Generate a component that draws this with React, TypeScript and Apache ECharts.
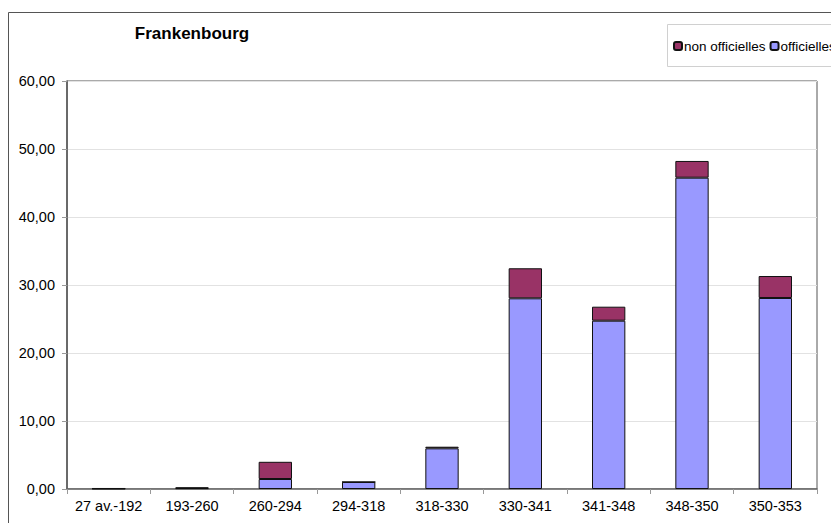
import React, { useEffect, useRef } from "react";
import * as echarts from "echarts";

const categories = ["27 av.-192", "193-260", "260-294", "294-318", "318-330", "330-341", "341-348", "348-350", "350-353"];
const officielles = [0.05, 0.12, 1.47, 1.03, 5.98, 28.04, 24.75, 45.78, 28.09];
const nonOfficielles = [0.05, 0.1, 2.53, 0, 0.24, 4.42, 2.06, 2.46, 3.23];
const yTicks = [0, 10, 20, 30, 40, 50, 60];

export default function App() {
  const ref = useRef<HTMLDivElement>(null);
  useEffect(() => {
    if (!ref.current) return;
    const chart = echarts.init(ref.current, undefined, { renderer: "svg" });
    const font = "Liberation Sans, Arial, sans-serif";
    chart.setOption({
      animation: false,
      backgroundColor: "#ffffff",
      textStyle: { fontFamily: font },
      title: {
        text: "Frankenbourg",
        left: 187,
        top: 20,
        textAlign: "center",
        textStyle: { fontSize: 17, fontWeight: "bold", color: "#000", fontFamily: font },
      },
      graphic: [
        {
          type: "rect",
          shape: { x: 8.5, y: 12.5, width: 900, height: 600 },
          style: { fill: "none", stroke: "#555", lineWidth: 1 },
          silent: true,
        },
        {
          type: "rect",
          shape: { x: 667.5, y: 24.5, width: 300, height: 42 },
          style: { fill: "#fff", stroke: "#d0d0d0", lineWidth: 1 },
          silent: true,
          z: 0,
        },
      ],
      legend: {
        data: ["non officielles", "officielles"],
        orient: "horizontal",
        left: 673,
        top: 39,
        width: 400,
        itemWidth: 8,
        itemHeight: 8,
        itemGap: 4,
        padding: 0,
        z: 10,
        textStyle: { fontSize: 13.5, color: "#000", fontFamily: font, padding: [0, 0, 0, -3] },
      },
      grid: { left: 67, right: 14, top: 81, bottom: 34, show: true, borderColor: "#555", borderWidth: 1 },
      xAxis: {
        type: "category",
        data: categories,
        axisLine: { lineStyle: { color: "#666", width: 1.5 } },
        axisTick: { show: true, length: 5, lineStyle: { color: "#999" } },
        axisLabel: { fontSize: 14.5, color: "#000", margin: 9, interval: 0, fontFamily: font },
      },
      yAxis: {
        type: "value",
        min: yTicks[0],
        max: yTicks[yTicks.length - 1],
        interval: 10,
        axisLine: { show: true, lineStyle: { color: "#555", width: 1.5 } },
        axisTick: { show: true, length: 5, lineStyle: { color: "#999" } },
        splitLine: { lineStyle: { color: "#e2e2e2" } },
        axisLabel: {
          fontSize: 14.5,
          color: "#000",
          margin: 12,
          fontFamily: font,
          formatter: (v: number) => v.toFixed(2).replace(".", ","),
        },
      },
      series: [
        {
          name: "officielles",
          type: "bar",
          stack: "total",
          data: officielles,
          barWidth: "40%",
          itemStyle: { color: "#9999ff", borderColor: "#111", borderWidth: 1 },
        },
        {
          name: "non officielles",
          type: "bar",
          stack: "total",
          data: nonOfficielles,
          barWidth: "40%",
          itemStyle: { color: "#993366", borderColor: "#111", borderWidth: 1 },
        },
      ],
    });
    return () => chart.dispose();
  }, []);
  return <div ref={ref} style={{ width: 831, height: 523, position: "absolute", left: 0, top: 0 }} />;
}
